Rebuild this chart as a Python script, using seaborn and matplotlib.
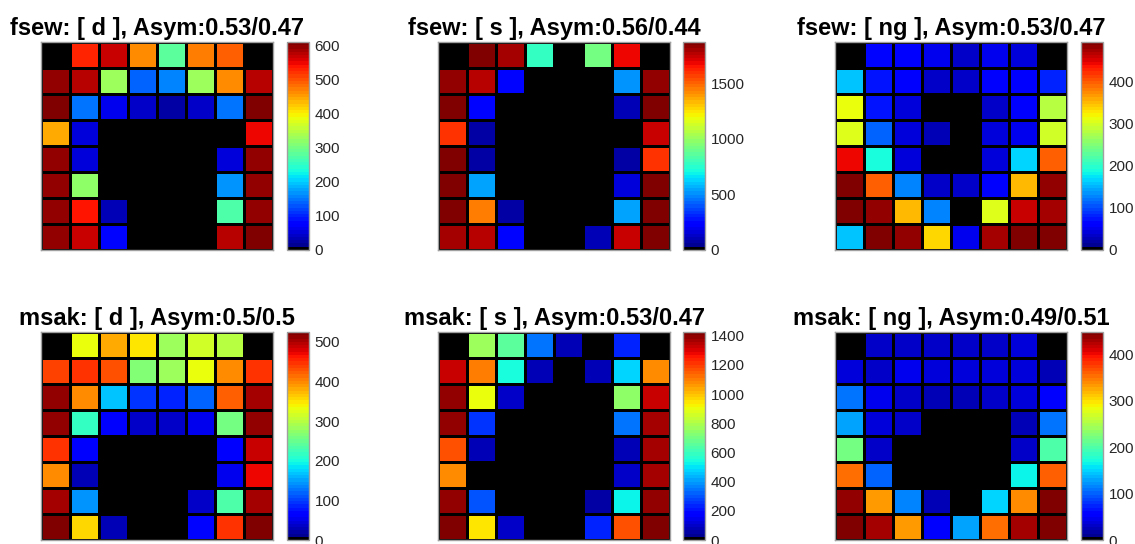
import numpy as np
import seaborn as sns
import matplotlib
matplotlib.use("Agg")
import matplotlib.pyplot as plt
from matplotlib.colors import ListedColormap

# 8x8 grids, values (0 = empty cell, drawn black)
fsew_d = [
    [0, 530, 565, 465, 285, 475, 495, 0],
    [600, 580, 330, 135, 160, 330, 465, 580],
    [605, 150, 60, 45, 25, 45, 150, 605],
    [440, 55, 0, 0, 0, 0, 0, 550],
    [600, 55, 0, 0, 0, 0, 55, 600],
    [600, 320, 0, 0, 0, 0, 165, 600],
    [600, 540, 35, 0, 0, 0, 270, 600],
    [600, 565, 80, 0, 0, 0, 580, 605],
]
fsew_s = [
    [0, 1850, 1790, 770, 0, 930, 1680, 0],
    [1830, 1760, 260, 0, 0, 0, 500, 1830],
    [1850, 240, 0, 0, 0, 0, 110, 1850],
    [1590, 80, 0, 0, 0, 0, 0, 1740],
    [1850, 80, 0, 0, 0, 0, 80, 1590],
    [1850, 540, 0, 0, 0, 0, 170, 1850],
    [1850, 1450, 80, 0, 0, 0, 540, 1850],
    [1800, 1760, 240, 0, 0, 110, 1740, 1850],
]
fsew_ng = [
    [0, 65, 58, 50, 35, 50, 45, 0],
    [160, 70, 58, 35, 35, 58, 58, 85],
    [310, 70, 40, 0, 0, 35, 58, 285],
    [305, 110, 45, 30, 0, 40, 50, 300],
    [445, 190, 40, 0, 0, 40, 170, 395],
    [490, 395, 130, 35, 35, 58, 355, 480],
    [490, 480, 350, 125, 0, 305, 460, 475],
    [155, 490, 485, 335, 50, 475, 490, 490],
]
msak_d = [
    [0, 330, 380, 350, 285, 315, 300, 0],
    [435, 450, 430, 270, 285, 330, 400, 445],
    [510, 395, 170, 95, 85, 120, 420, 505],
    [515, 220, 65, 35, 35, 50, 255, 515],
    [450, 60, 0, 0, 0, 0, 65, 490],
    [395, 30, 0, 0, 0, 0, 55, 470],
    [505, 140, 0, 0, 0, 35, 230, 505],
    [525, 355, 30, 0, 0, 70, 445, 520],
]
msak_s = [
    [0, 770, 650, 355, 70, 0, 240, 0],
    [1320, 1110, 540, 70, 0, 70, 480, 1070],
    [1390, 910, 100, 0, 0, 0, 745, 1320],
    [1390, 260, 0, 0, 0, 0, 355, 1380],
    [1180, 70, 0, 0, 0, 0, 85, 1380],
    [1090, 0, 0, 0, 0, 0, 110, 1380],
    [1390, 310, 0, 0, 0, 60, 520, 1390],
    [1420, 940, 110, 0, 0, 225, 1180, 1420],
]
msak_ng = [
    [0, 28, 32, 32, 32, 32, 36, 0],
    [40, 28, 48, 40, 40, 40, 36, 25],
    [105, 48, 28, 25, 25, 28, 36, 52],
    [130, 40, 28, 0, 0, 0, 25, 105],
    [222, 32, 0, 0, 0, 0, 32, 197],
    [355, 100, 0, 0, 0, 0, 165, 360],
    [435, 335, 112, 25, 0, 150, 340, 445],
    [445, 430, 330, 55, 130, 355, 430, 445],
]

titles = ["fsew: [ d ], Asym:0.53/0.47", "fsew: [ s ], Asym:0.56/0.44",
          "fsew: [ ng ], Asym:0.53/0.47", "msak: [ d ], Asym:0.5/0.5",
          "msak: [ s ], Asym:0.53/0.47", "msak: [ ng ], Asym:0.49/0.51"]
grids = [fsew_d, fsew_s, fsew_ng, msak_d, msak_s, msak_ng]
vmaxs = [610, 1870, 495, 525, 1425, 448]
cbar_ticks = [range(0, 601, 100), range(0, 1501, 500), range(0, 401, 100),
              range(0, 501, 100), range(0, 1401, 200), range(0, 401, 100)]

# jet with the lowest entry black (matlab style)
jet = plt.get_cmap("jet", 64)
cols = jet(np.arange(64))
cols[0] = [0, 0, 0, 1]
cmap = ListedColormap(cols)

sns.set_style("white")
plt.rcParams["font.family"] = ["Liberation Sans", "DejaVu Sans"]

W, H = 1135, 544
fig = plt.figure(figsize=(W / 100, H / 100), dpi=100)

hm_left = [41, 438, 835]
cb_left = [287, 683, 1081]
row_top = [42, 332]
hm_w, hm_h, cb_w = 232, 208, 22

for i, (grid, title, vmax, ticks) in enumerate(zip(grids, titles, vmaxs, cbar_ticks)):
    r, c = divmod(i, 3)
    top = row_top[r]
    ax = fig.add_axes([hm_left[c] / W, 1 - (top + hm_h) / H, hm_w / W, hm_h / H])
    cax = fig.add_axes([cb_left[c] / W, 1 - (top + hm_h) / H, cb_w / W, hm_h / H])
    sns.heatmap(np.array(grid), ax=ax, cbar_ax=cax, cmap=cmap, vmin=0, vmax=vmax,
                linewidths=2.0, linecolor="black", xticklabels=False, yticklabels=False)
    ax.set_facecolor("black")
    for s in ax.spines.values():
        s.set_visible(True)
        s.set_color("#a0a0a0")
        s.set_linewidth(1.0)
    ax.set_title(title, fontsize=17, fontweight="bold", color="black", pad=5)
    cb = ax.collections[0].colorbar
    cb.set_ticks(list(ticks))
    cb.outline.set_visible(True)
    cb.outline.set_edgecolor("#a0a0a0")
    cb.outline.set_linewidth(1.0)
    cax.tick_params(direction="in", length=3, width=0.8, color="#404040",
                    labelsize=11, labelcolor="#262626", pad=4)

fig.savefig("out.png", dpi=100)
